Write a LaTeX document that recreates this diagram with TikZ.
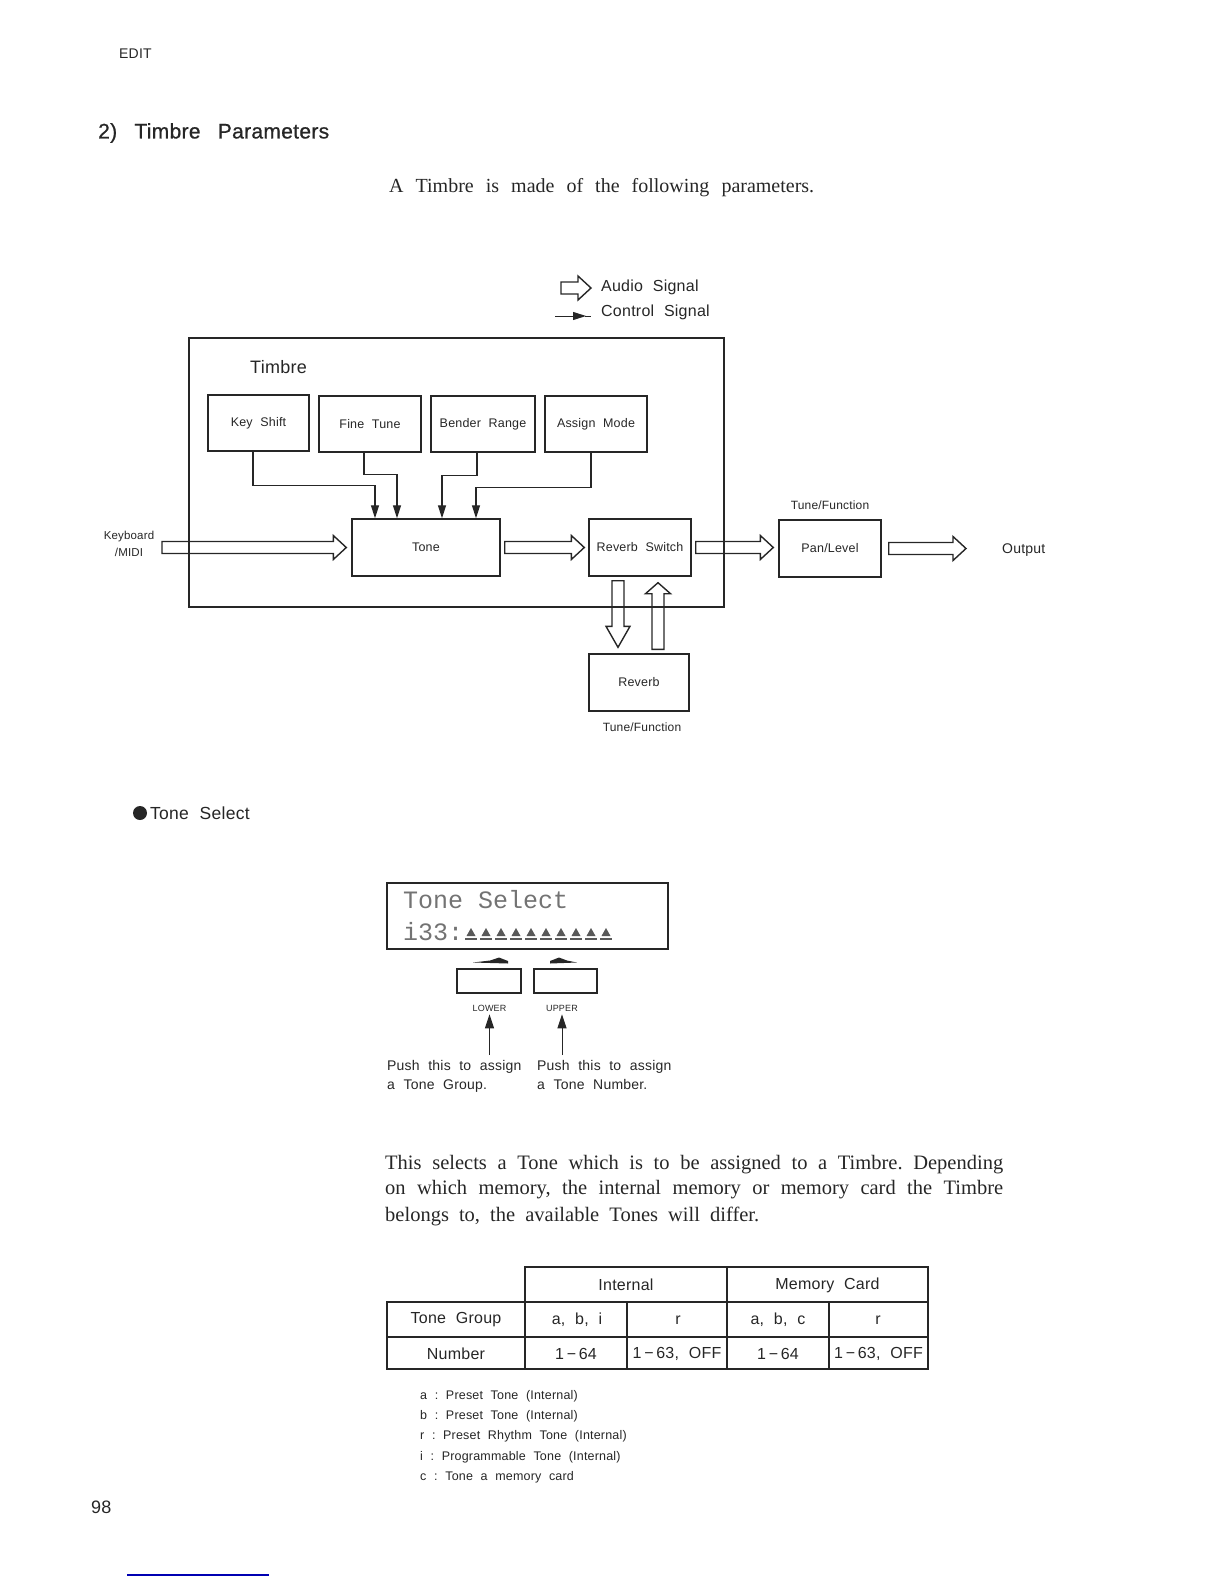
\documentclass[tikz,border=0pt]{standalone}
\usepackage{fontspec}
\setmainfont{Liberation Sans}[WordSpace=2.1,LetterSpace=1.5]
\newfontfamily\headfont{Liberation Sans}[WordSpace=2.1,LetterSpace=1.5,FakeBold=0.8]
\newfontfamily\serifa{Liberation Serif}
\newfontfamily\lcdfont{Liberation Mono}
\usetikzlibrary{arrows.meta,calc}
\newcommand\fz[2]{\fontsize{#1}{#2}\selectfont}
\frenchspacing
\colorlet{ink}{black!85}
\tikzset{
 blk/.style={draw=ink, line width=1.4pt, inner sep=0pt, font=\fz{12.5}{14}, text=ink},
 lbl/.style={inner sep=0pt, text=ink},
 ctl/.style={draw=ink, line width=1.3pt, -{Triangle[length=13pt,width=8pt]}},
 aud/.style={draw=ink, line width=1.4pt, line join=miter},
 audioR/.style={to path={let \p1=(\tikztostart), \p2=(\tikztotarget) in
   (\x1,\y1+6pt) -- (\x2-13pt,\y1+6pt) -- (\x2-13pt,\y1+12pt) -- (\x2,\y1)
   -- (\x2-13pt,\y1-12pt) -- (\x2-13pt,\y1-6pt) -- (\x1,\y1-6pt) -- cycle}},
 audioDown/.style={to path={let \p1=(\tikztostart), \p2=(\tikztotarget) in
   (\x1-6pt,\y1) -- (\x1-6pt,\y2+21pt) -- (\x1-12pt,\y2+21pt) -- (\x1,\y2)
   -- (\x1+12pt,\y2+21pt) -- (\x1+6pt,\y2+21pt) -- (\x1+6pt,\y1) -- cycle}},
 audioUp/.style={to path={let \p1=(\tikztostart), \p2=(\tikztotarget) in
   (\x1-6pt,\y1) -- (\x1-6pt,\y2-11pt) -- (\x1-12.5pt,\y2-11pt) -- (\x1,\y2)
   -- (\x1+12.5pt,\y2-11pt) -- (\x1+6pt,\y2-11pt) -- (\x1+6pt,\y1) -- cycle}},
 btnarrow/.style={draw=ink, line width=1pt, -{Triangle[length=14pt,width=9pt]}},
 tline/.style={draw=ink, line width=1.6pt},
 cell/.style={inner sep=0pt, text=ink, font=\fz{16}{18}},
}
\begin{document}
\begin{tikzpicture}[x=1pt,y=-1pt]
\useasboundingbox (0,0) rectangle (1224,1584);

% header texts
\node[lbl, anchor=west, font=\fz{14}{16}] (edit) at (119,54) {EDIT};
\node[lbl, anchor=west, font=\headfont\fz{21}{23}] (head) at (98,133) {\makebox[231pt][s]{2) Timbre Parameters}};
\node[lbl, anchor=west, font=\serifa\fz{20}{22}] (intro) at (389,188) {\makebox[425pt][s]{A Timbre is made of the following parameters.}};

% legend
\draw[aud] (561,288) to[audioR] (591,288);
\node[lbl, anchor=west, font=\fz{16}{18}] (legA) at (601,287) {Audio Signal};
\draw[ctl, line width=1pt] (555,316) -- (586,316);
\draw[draw=ink, line width=1pt] (585,316) -- (591,316);
\node[lbl, anchor=west, font=\fz{16}{18}] (legC) at (601,312) {Control Signal};

% Timbre frame
\node[blk, line width=2.2pt, minimum width=535pt, minimum height=269pt] (timbre) at (456.5,472.5) {};
\node[lbl, anchor=west, font=\fz{18}{20}] (timbrelbl) at (250,367) {Timbre};

% boxes
\node[blk, minimum width=101pt, minimum height=56pt] (ks) at (258.5,423) {Key Shift};
\node[blk, minimum width=102pt, minimum height=56pt] (ft) at (370,424) {Fine Tune};
\node[blk, minimum width=104pt, minimum height=56pt] (br) at (483,424) {Bender Range};
\node[blk, minimum width=102pt, minimum height=56pt] (am) at (596,424) {Assign Mode};
\node[blk, minimum width=148pt, minimum height=57pt] (tone) at (426,547.5) {Tone};
\node[blk, minimum width=102pt, minimum height=57pt] (rs) at (640,547.5) {Reverb Switch};
\node[blk, minimum width=102pt, minimum height=57pt] (pan) at (830,548.5) {Pan/Level};
\node[blk, minimum width=100pt, minimum height=57pt] (rev) at (639,682.5) {Reverb};

\node[lbl, font=\fz{12}{14}] (tfpan) at (830,505) {Tune/Function};
\node[lbl, font=\fz{12}{14}] (tfrev) at (642,727) {Tune/Function};
\node[lbl, align=center, font=\fz{11.5}{17}] (kbd) at (129,543.5) {Keyboard\\/MIDI};
\node[lbl, anchor=west, font=\fz{14}{16}] (out) at (1002,550) {Output};

% control connectors
\draw[ctl] ([xshift=-5.5pt]ks.south) -- ++(0,34) -| ([xshift=-51pt]tone.north);
\draw[ctl] ([xshift=-6pt]ft.south) -- ++(0,22) -| ([xshift=-29pt]tone.north);
\draw[ctl] ([xshift=-6pt]br.south) -- ++(0,23) -| ([xshift=16pt]tone.north);
\draw[ctl] ([xshift=-5pt]am.south) -- ++(0,35) -| ([xshift=50pt]tone.north);

% audio connectors
\coordinate (kbstart) at (162,547.5);
\draw[aud] (kbstart) to[audioR] ([xshift=-5pt]tone.west);
\draw[aud] ([xshift=4pt]tone.east) to[audioR] ([xshift=-4pt]rs.west);
\draw[aud] ([xshift=4pt]rs.east) to[audioR] ([xshift=-5pt]pan.west);
\draw[aud] ([xshift=7pt]pan.east) to[audioR] ([xshift=-36pt]out.west);
\draw[aud] ([xshift=-22pt,yshift=-4pt]rs.south) to[audioDown] ([xshift=-21pt,yshift=6pt]rev.north);
\draw[aud] ([xshift=19pt,yshift=4pt]rev.north) to[audioUp] ([xshift=18pt,yshift=-6pt]rs.south);

% Tone Select
\node[circle, fill=ink, minimum size=14pt, inner sep=0pt] (bul) at (140,813) {};
\node[lbl, anchor=west, font=\fz{17.5}{19}] (tsel) at (150,813) {Tone Select};

\node[draw=ink, line width=1.3pt, minimum width=281pt, minimum height=66pt, inner sep=0pt] (lcd) at (527.5,916) {};
\node[anchor=base west, inner sep=0pt, text=black!55, font=\lcdfont\fz{25}{27}] (lcd1) at (403,908) {Tone Select};
\node[anchor=base west, inner sep=0pt, text=black!55, font=\lcdfont\fz{25}{27}] (lcd2) at (403,940) {i33:};
\foreach \i in {0,...,9}{
  \fill[black!65] (471+15*\i,928) -- (466.5+15*\i,936) -- (475.5+15*\i,936) -- cycle;
  \draw[black!65, line width=1.3pt] (465+15*\i,939) -- (477+15*\i,939);
}

\node[draw=ink, line width=1.2pt, minimum width=64pt, minimum height=24pt, inner sep=0pt] (btnL) at (489,981) {};
\node[draw=ink, line width=1.2pt, minimum width=63pt, minimum height=24pt, inner sep=0pt] (btnU) at (565.5,981) {};
\fill[ink] (473,962.5) -- (490,960.5) -- (499,957.5) -- (508,961) -- (508,963.5) -- cycle;
\fill[ink] (550,961) -- (559,957.5) -- (567,960.5) -- (577,962.5) -- (550,963.5) -- cycle;
\node[lbl, font=\fz{9}{10}] (lower) at (489.5,1008) {LOWER};
\node[lbl, font=\fz{9}{10}] (upper) at (562,1008) {UPPER};

\node[lbl, anchor=north west, align=left, font=\fz{14}{19}] (pushL) at (387,1060) {Push this to assign\\a Tone Group.};
\node[lbl, anchor=north west, align=left, font=\fz{14}{19}] (pushU) at (537,1060) {Push this to assign\\a Tone Number.};
\draw[btnarrow] ([yshift=5pt]pushL.north -| lower.south) -- ([yshift=-3pt]lower.south);
\draw[btnarrow] ([yshift=5pt]pushU.north -| upper.south) -- ([yshift=-3pt]upper.south);

% paragraph
\node[lbl, anchor=west, font=\serifa\fz{20.5}{22}] (p1) at (385,1165) {\makebox[618pt][s]{This selects a Tone which is to be assigned to a Timbre. Depending}};
\node[lbl, anchor=west, font=\serifa\fz{20.5}{22}] (p2) at (385,1190) {\makebox[618pt][s]{on which memory, the internal memory or memory card the Timbre}};
\node[lbl, anchor=west, font=\serifa\fz{20.5}{22}] (p3) at (385,1216) {\makebox[374pt][s]{belongs to, the available Tones will differ.}};

% table
\draw[tline] (525,1267) rectangle (928,1302);
\draw[tline] (727,1267) -- (727,1302);
\draw[tline] (387,1302) rectangle (928,1369);
\draw[tline] (387,1337) -- (928,1337);
\foreach \cx in {525,627,727,829} \draw[tline] (\cx,1302) -- (\cx,1369);
\node[cell] (hInt) at (626,1285) {Internal};
\node[cell] (hMem) at (827.5,1285) {Memory Card};
\node[cell] (tg) at (456,1320) {Tone Group};
\node[cell] (tg1) at (577,1320) {a, b, i};
\node[cell] (tg2) at (678,1320) {r};
\node[cell] (tg3) at (778,1320) {a, b, c};
\node[cell] (tg4) at (878,1320) {r};
\node[cell] (nm) at (456,1354) {Number};
\node[cell] (nm1) at (576,1354) {1\,−\,64};
\node[cell] (nm2) at (677,1354) {1\,−\,63,\ OFF};
\node[cell] (nm3) at (778,1354) {1\,−\,64};
\node[cell] (nm4) at (878.5,1354) {1\,−\,63,\ OFF};

% footnotes
\node[lbl, anchor=west, font=\fz{12.5}{14}] (fa) at (420,1396) {a : Preset Tone (Internal)};
\node[lbl, anchor=west, font=\fz{12.5}{14}] (fb) at (420,1416) {b : Preset Tone (Internal)};
\node[lbl, anchor=west, font=\fz{12.5}{14}] (fr) at (420,1436) {r : Preset Rhythm Tone (Internal)};
\node[lbl, anchor=west, font=\fz{12.5}{14}] (fi) at (420,1457) {i : Programmable Tone (Internal)};
\node[lbl, anchor=west, font=\fz{12.5}{14}] (fc) at (420,1477) {c : Tone a memory card};

% page number and rule
\node[lbl, anchor=west, font=\fz{18}{20}] (pg) at (91,1507) {98};
\draw[blue!70!black, line width=1.3pt] (127,1575) -- (269,1575);
\end{tikzpicture}
\end{document}
